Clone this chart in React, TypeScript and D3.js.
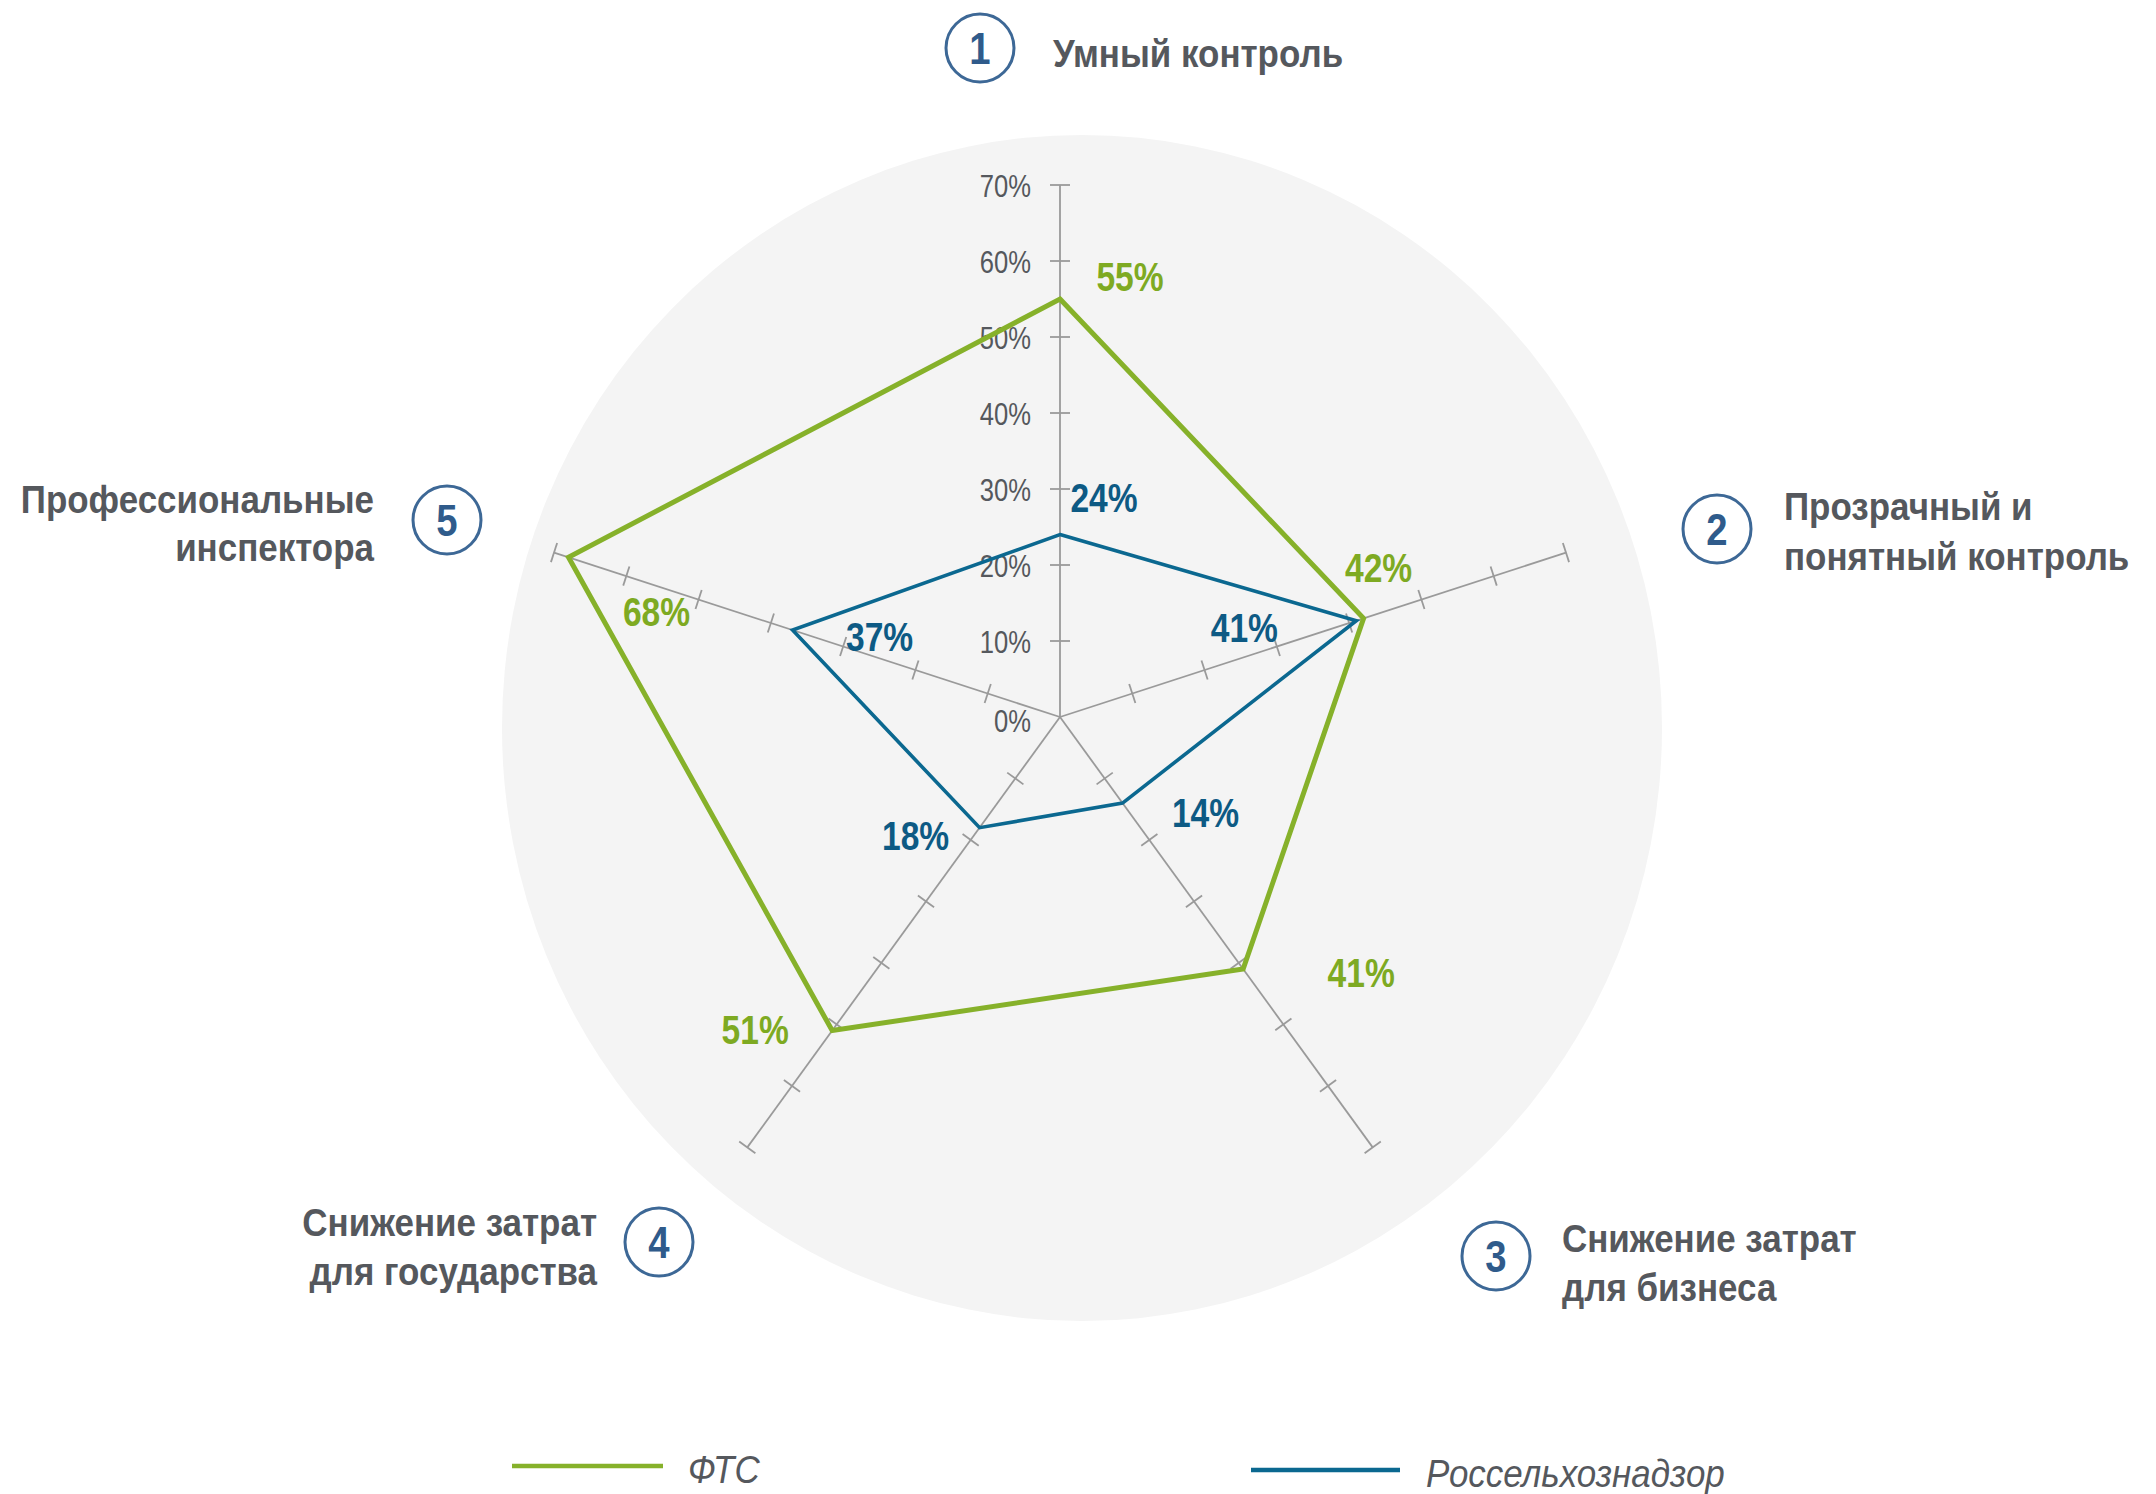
import React from "react";
import * as d3 from "d3";

const categories = [
  ["Умный контроль"],
  ["Прозрачный и", "понятный контроль"],
  ["Снижение затрат", "для бизнеса"],
  ["Снижение затрат", "для государства"],
  ["Профессиональные", "инспектора"],
];
const categoryNumbers = ["1", "2", "3", "4", "5"];
const seriesNames = ["ФТС", "Россельхознадзор"];
const ftsValues = [0.55, 0.42, 0.41, 0.51, 0.68];
const rshnValues = [0.24, 0.41, 0.14, 0.18, 0.37];
const tickValues = [0, 0.1, 0.2, 0.3, 0.4, 0.5, 0.6, 0.7];

const W = 2156;
const H = 1494;
const CX = 1060;
const CY = 717;
const R = 532;
const FONT = "'Liberation Sans', Arial, Helvetica, sans-serif";
const GREEN = "#86b12a";
const GREEN_TXT = "#7eaa22";
const BLUE = "#0b6890";
const BLUE_TXT = "#0d5a84";
const GREY_TXT = "#55585d";
const NUM_BLUE = "#2f5b8b";

// layout for category headers
const catLayout = [
  { cx: 980, cy: 48, tx: 1053, anchor: "start", base: [67] },
  { cx: 1717, cy: 529, tx: 1784, anchor: "start", base: [520, 570] },
  { cx: 1496, cy: 1256, tx: 1562, anchor: "start", base: [1252, 1301] },
  { cx: 659, cy: 1242, tx: 597, anchor: "end", base: [1236, 1285] },
  { cx: 447, cy: 520, tx: 374, anchor: "end", base: [513, 561] },
];

// label centre offsets (dx, dy) relative to the data point
const ftsLabelOffsets = [
  [70, -22],
  [15, -50],
  [118, 4],
  [-77, -1],
  [88, 55],
];
const rshnLabelOffsets = [
  [44, -37],
  [-112, 7],
  [83, 10],
  [-64, 8],
  [87, 7],
];

function NText(props: any) {
  const { x, y, sx = 1, anchor = "start", children, ...rest } = props;
  return (
    <text
      transform={`translate(${x},${y}) scale(${sx},1)`}
      textAnchor={anchor}
      fontFamily={FONT}
      {...rest}
    >
      {children}
    </text>
  );
}

export default function App() {
  const r = d3.scaleLinear().domain([0, 0.7]).range([0, R]);
  const n = categories.length;
  const angle = (i: number) => (i * 2 * Math.PI) / n;
  const pt = (i: number, v: number): [number, number] => [
    CX + r(v) * Math.sin(angle(i)),
    CY - r(v) * Math.cos(angle(i)),
  ];
  const radial = d3
    .lineRadial<number>()
    .angle((_d, i) => angle(i))
    .radius((d) => r(d))
    .curve(d3.curveLinearClosed);

  const tickHalf = 10;
  const axisTicks = tickValues.filter((t) => t > 0);
  const pct = d3.format(".0%");

  return (
    <svg
      width={W}
      height={H}
      style={{ position: "absolute", left: 0, top: 0, background: "#ffffff" }}
    >
      <rect width={W} height={H} fill="#ffffff" />
      <ellipse cx={1082} cy={728} rx={580} ry={593} fill="#f4f4f4" />

      {/* axes */}
      {categories.map((_c, i) => {
        const [x2, y2] = pt(i, 0.7);
        const a = angle(i);
        const ux = Math.sin(a);
        const uy = -Math.cos(a);
        const px = -uy;
        const py = ux;
        return (
          <g key={"ax" + i}>
            <line x1={CX} y1={CY} x2={x2} y2={y2} stroke="#9a9a9a" strokeWidth={1.8} />
            {axisTicks.map((t) => {
              const [tx, ty] = pt(i, t);
              return (
                <line
                  key={t}
                  x1={tx - px * tickHalf}
                  y1={ty - py * tickHalf}
                  x2={tx + px * tickHalf}
                  y2={ty + py * tickHalf}
                  stroke="#9a9a9a"
                  strokeWidth={1.8}
                />
              );
            })}
          </g>
        );
      })}

      {/* tick labels */}
      {tickValues.map((t) => (
        <NText
          key={"tl" + t}
          x={1031}
          y={CY - r(t) + (t === 0 ? 15 : 12)}
          sx={0.8}
          anchor="end"
          fontSize={32}
          fill={GREY_TXT}
        >
          {pct(t)}
        </NText>
      ))}

      {/* series */}
      <path
        d={radial(ftsValues) || ""}
        transform={`translate(${CX},${CY})`}
        fill="none"
        stroke={GREEN}
        strokeWidth={5}
        strokeLinejoin="miter"
      />
      <path
        d={radial(rshnValues) || ""}
        transform={`translate(${CX},${CY})`}
        fill="none"
        stroke={BLUE}
        strokeWidth={3.6}
        strokeLinejoin="miter"
      />

      {/* value labels */}
      {ftsValues.map((v, i) => {
        const [x, y] = pt(i, v);
        const [dx, dy] = ftsLabelOffsets[i];
        return (
          <NText
            key={"fv" + i}
            x={x + dx}
            y={y + dy + 14}
            sx={0.84}
            anchor="middle"
            fontSize={40}
            fontWeight="bold"
            fill={GREEN_TXT}
          >
            {pct(v)}
          </NText>
        );
      })}
      {rshnValues.map((v, i) => {
        const [x, y] = pt(i, v);
        const [dx, dy] = rshnLabelOffsets[i];
        return (
          <NText
            key={"rv" + i}
            x={x + dx}
            y={y + dy + 14}
            sx={0.84}
            anchor="middle"
            fontSize={40}
            fontWeight="bold"
            fill={BLUE_TXT}
          >
            {pct(v)}
          </NText>
        );
      })}

      {/* category headers */}
      {categories.map((lines, i) => {
        const L = catLayout[i];
        return (
          <g key={"cat" + i}>
            <circle cx={L.cx} cy={L.cy} r={34} fill="#ffffff" stroke="#3d6896" strokeWidth={3} />
            <NText
              x={L.cx}
              y={L.cy + 16}
              sx={0.85}
              anchor="middle"
              fontSize={45}
              fontWeight="bold"
              fill={NUM_BLUE}
            >
              {categoryNumbers[i]}
            </NText>
            {lines.map((ln, j) => (
              <NText
                key={j}
                x={L.tx}
                y={L.base[j]}
                sx={0.92}
                anchor={L.anchor}
                fontSize={38}
                fontWeight="bold"
                fill={GREY_TXT}
              >
                {ln}
              </NText>
            ))}
          </g>
        );
      })}

      {/* legend */}
      <line x1={512} y1={1466} x2={663} y2={1466} stroke={GREEN} strokeWidth={4.5} />
      <NText x={688} y={1483} sx={0.92} fontSize={38} fontStyle="italic" fill={GREY_TXT}>
        {seriesNames[0]}
      </NText>
      <line x1={1251} y1={1470} x2={1400} y2={1470} stroke={BLUE} strokeWidth={4.5} />
      <NText x={1426} y={1487} sx={0.92} fontSize={38} fontStyle="italic" fill={GREY_TXT}>
        {seriesNames[1]}
      </NText>
    </svg>
  );
}
